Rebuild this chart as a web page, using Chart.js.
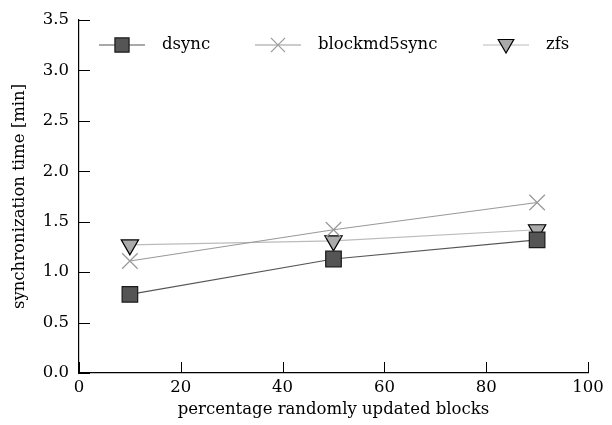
<!DOCTYPE html>
<html>
<head>
<meta charset="utf-8">
<script src="https://cdn.jsdelivr.net/npm/chart.js@4"></script>
<style>
  html, body { margin: 0; padding: 0; background: #fff; }
  #wrap { width: 612px; height: 425px; }
</style>
</head>
<body>
<div id="wrap"><canvas id="myChart" width="612" height="425"></canvas></div>
<script>
// data
var percents = [10, 50, 90];
var dsync = [0.78, 1.13, 1.32];
var blockmd5sync = [1.11, 1.42, 1.69];
var zfs = [1.27, 1.31, 1.42];
var xTicks = [0, 20, 40, 60, 80, 100];
var yTicks = [0, 0.5, 1, 1.5, 2, 2.5, 3, 3.5];

var FONT = "'DejaVu Serif', 'Liberation Serif', serif";
var FSIZE = 16.5;

function pts(vals) {
  return percents.map(function (p, i) { return { x: p, y: vals[i] }; });
}

var series = [
  { label: "dsync", data: pts(dsync), borderColor: "#555", pointStyle: "rect", pointRadius: 11,
    pointBackgroundColor: "#555", pointBorderColor: "#1a1a1a", rotation: 0 },
  { label: "blockmd5sync", data: pts(blockmd5sync), borderColor: "#999", pointStyle: "crossRot", pointRadius: 11,
    pointBackgroundColor: "#999", pointBorderColor: "#999", rotation: 0 },
  { label: "zfs", data: pts(zfs), borderColor: "#bbb", pointStyle: "triangle", pointRadius: 10,
    pointBackgroundColor: "#aaa", pointBorderColor: "#000", rotation: 180 }
];

// inward tick marks + inline legend
var extras = {
  id: "extras",
  afterDraw: function (chart) {
    var ctx = chart.ctx, a = chart.chartArea;
    var xs = chart.scales.x, ys = chart.scales.y;
    ctx.save();
    ctx.strokeStyle = "#000";
    ctx.lineWidth = 1;
    ctx.beginPath();
    xTicks.forEach(function (t) {
      var px = Math.round(xs.getPixelForValue(t)) + 0.5;
      ctx.moveTo(px, a.bottom);
      ctx.lineTo(px, a.bottom - 11);
    });
    yTicks.forEach(function (t) {
      var py = Math.round(ys.getPixelForValue(t)) + 0.5;
      ctx.moveTo(a.left, py);
      ctx.lineTo(a.left + 11, py);
    });
    ctx.stroke();

    // legend
    var legendX = [99, 255, 483];
    var ly = 45;
    ctx.font = FSIZE + "px " + FONT;
    ctx.textBaseline = "middle";
    series.forEach(function (s, i) {
      var x0 = legendX[i];
      ctx.strokeStyle = s.borderColor;
      ctx.lineWidth = 1.2;
      ctx.beginPath();
      ctx.moveTo(x0, ly);
      ctx.lineTo(x0 + 46, ly);
      ctx.stroke();
      ctx.fillStyle = s.pointBackgroundColor;
      ctx.strokeStyle = s.pointBorderColor;
      Chart.helpers.drawPoint(ctx, { pointStyle: s.pointStyle, radius: s.pointRadius - 1, rotation: s.rotation, borderWidth: 1.2 },
        x0 + 23, s.pointStyle === "triangle" ? ly - 1 : ly);
      ctx.fillStyle = "#000";
      ctx.textAlign = "left";
      ctx.fillText(s.label, x0 + 63, ly);
    });
    ctx.restore();
  }
};

var ctx = document.getElementById("myChart").getContext("2d");
var myChart = new Chart(ctx, {
  type: "line",
  data: {
    datasets: series.map(function (s) {
      return {
        label: s.label,
        data: s.data,
        borderColor: s.borderColor,
        borderWidth: 1.2,
        pointStyle: s.pointStyle,
        pointRadius: s.pointRadius,
        pointBackgroundColor: s.pointBackgroundColor,
        pointBorderColor: s.pointBorderColor,
        pointBorderWidth: 1.2,
        pointRotation: s.rotation,
        fill: false,
        tension: 0
      };
    })
  },
  options: {
    responsive: false,
    animation: false,
    layout: { padding: { top: 18, right: 24, left: 0, bottom: 0 } },
    plugins: { legend: { display: false }, tooltip: { enabled: false } },
    scales: {
      x: {
        type: "linear",
        min: 0, max: 100,
        afterBuildTicks: function (s) { s.ticks = xTicks.map(function (v) { return { value: v }; }); },
        afterFit: function (s) { s.height = 52; },
        grid: { display: true, drawOnChartArea: false, drawTicks: false },
        border: { display: true, color: "#000", width: 1.2 },
        ticks: { padding: 5, color: "#000", font: { family: FONT, size: FSIZE }, maxRotation: 0 },
        title: { display: true, text: "percentage randomly updated blocks", color: "#000",
                 font: { family: FONT, size: FSIZE }, padding: { top: 4, bottom: 5 } }
      },
      y: {
        min: 0, max: 3.5,
        afterBuildTicks: function (s) { s.ticks = yTicks.map(function (v) { return { value: v }; }); },
        afterFit: function (s) { s.width = 79; },
        grid: { display: true, drawOnChartArea: false, drawTicks: false },
        border: { display: true, color: "#000", width: 1.2 },
        ticks: { padding: 10, color: "#000", font: { family: FONT, size: FSIZE },
                 callback: function (v) { return v.toFixed(1); } },
        title: { display: true, text: "synchronization time [min]", color: "#000",
                 font: { family: FONT, size: FSIZE }, padding: { top: 10, bottom: 4 } }
      }
    }
  },
  plugins: [extras]
});
</script>
</body>
</html>
